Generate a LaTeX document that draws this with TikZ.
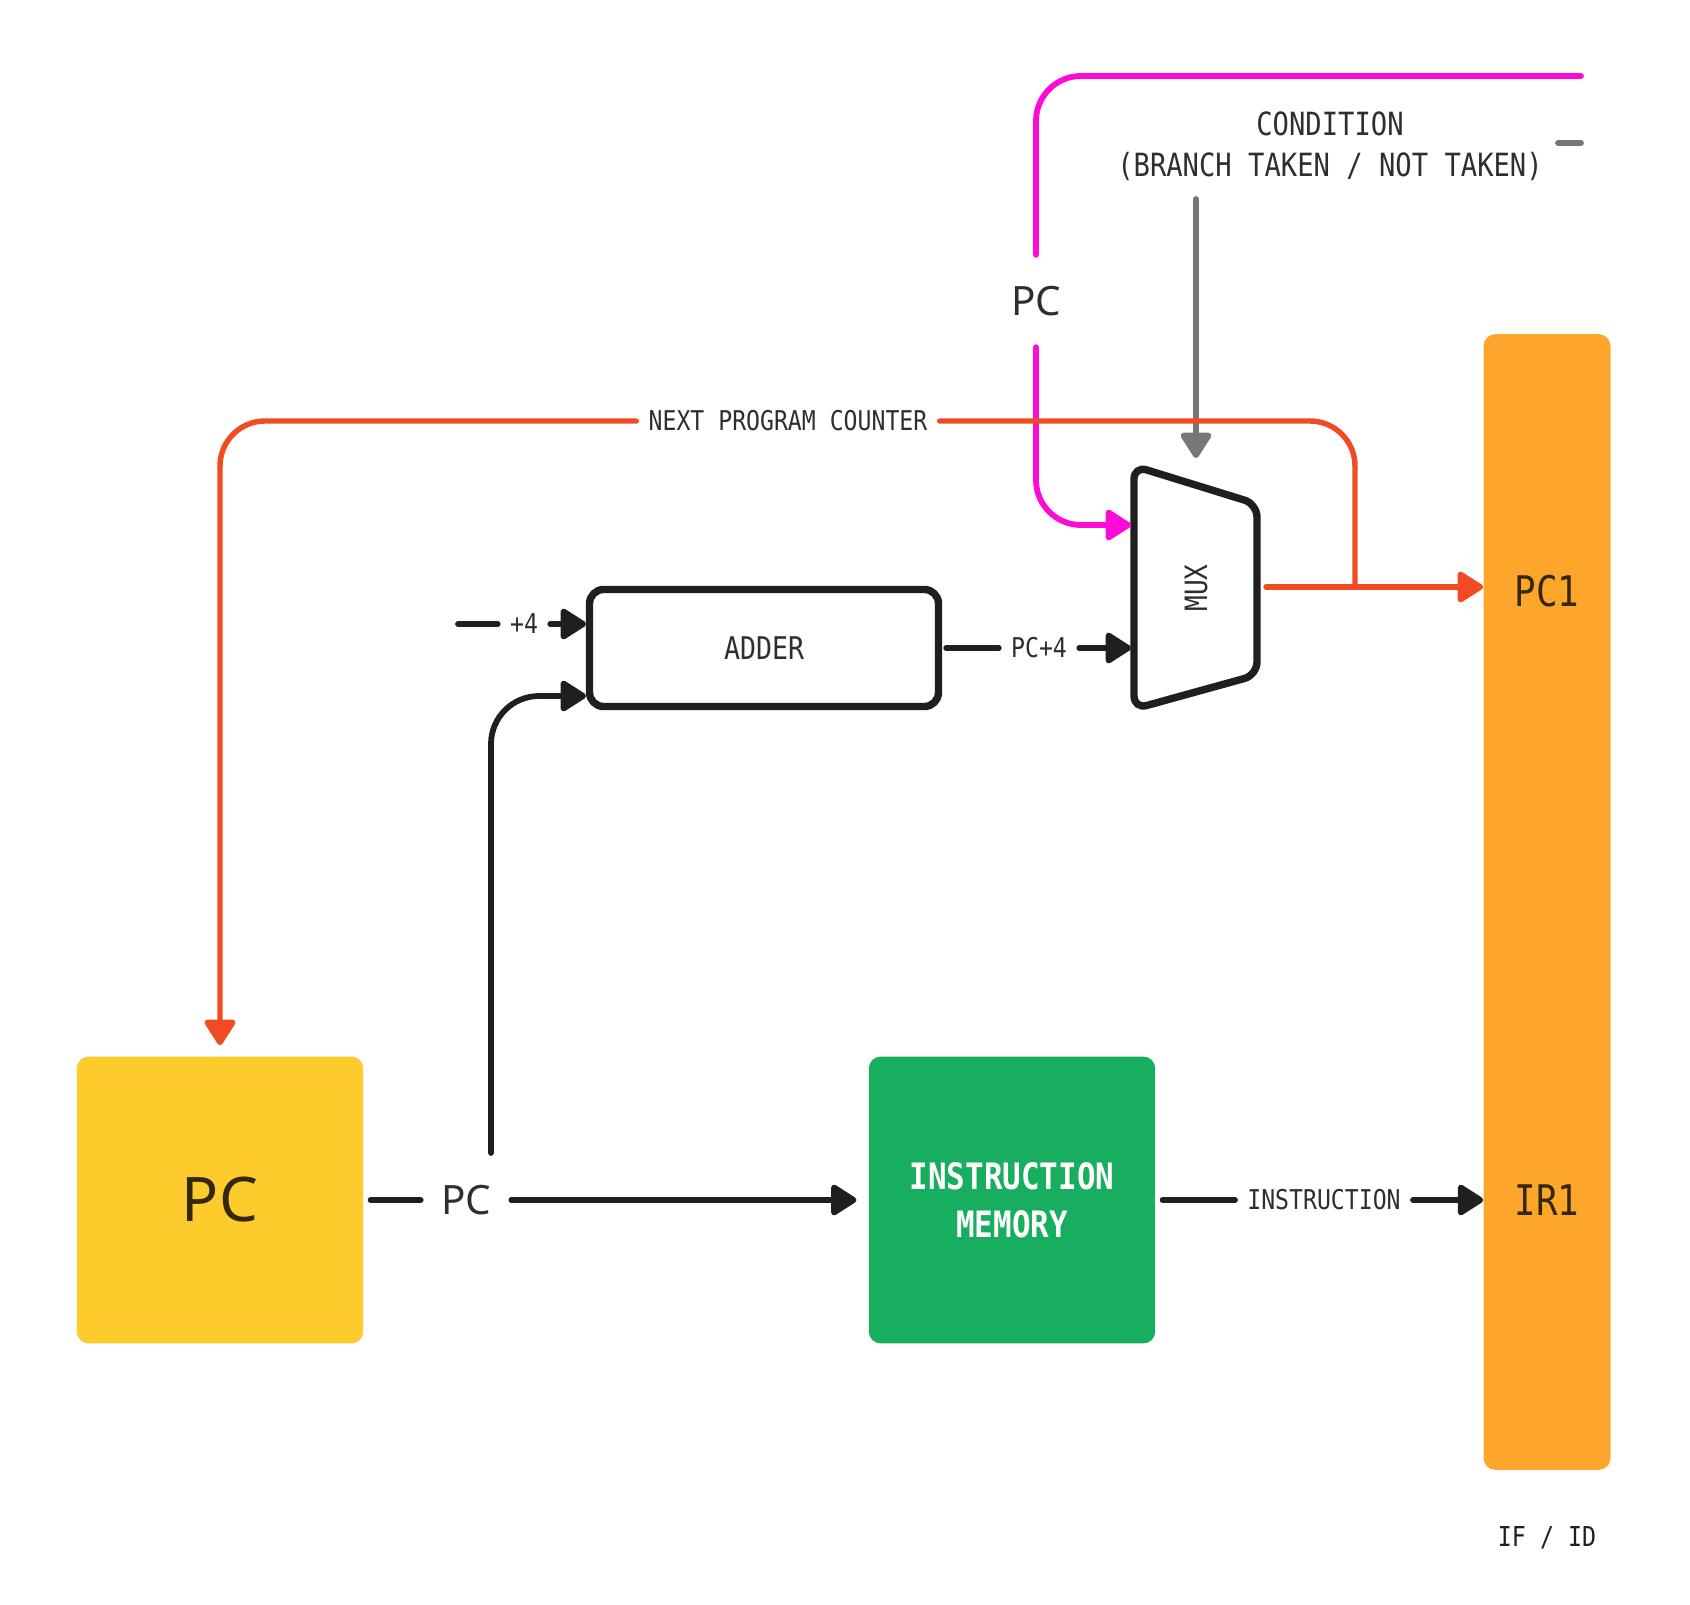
\documentclass[tikz,border=0pt]{standalone}
\usepackage{fontspec}
\setmainfont{Noto Sans}
\newfontfamily\monof[FakeStretch=0.85]{DejaVu Sans Mono}
\usetikzlibrary{arrows.meta}
\definecolor{pcyellow}{HTML}{FDCC2C}
\definecolor{memgreen}{HTML}{18AE5F}
\definecolor{regorange}{HTML}{FEA62B}
\definecolor{nextred}{HTML}{F24A23}
\definecolor{branchpink}{HTML}{FF0AD6}
\definecolor{condgrey}{HTML}{777777}
\definecolor{wireblack}{HTML}{1F1F1F}
\definecolor{txtgrey}{HTML}{2E2E2E}
\definecolor{pctxt}{HTML}{33280A}
\tikzset{
  wire/.style={line width=3.3pt, draw=wireblack, line cap=round},
  redwire/.style={line width=3.1pt, draw=nextred, line cap=round},
  pinkwire/.style={line width=3.3pt, draw=branchpink, line cap=round},
  greywire/.style={line width=3.3pt, draw=condgrey, line cap=round},
  tip/.style={-{Triangle[length=0.56cm,width=0.68cm,round]}},
  lbl/.style={font=\monof\fontsize{15.5}{18}\selectfont, text=txtgrey, inner xsep=0.24cm, inner ysep=0pt},
  siglbl/.style={font=\fontsize{23}{26}\selectfont, text=txtgrey, inner xsep=0.4cm, inner ysep=0pt},
  block/.style={rounded corners=0.24cm, minimum width=5.73cm, minimum height=5.74cm},
}
\begin{document}
\begin{tikzpicture}[x=0.02cm, y=-0.02cm]
    \useasboundingbox (0,0) rectangle (1690,1605);

    \node[block, fill=pcyellow, text=pctxt, font=\fontsize{35}{40}\selectfont] (pc) at (220,1200) {PC};
    \node[block, fill=memgreen, text=white, align=center, font=\monof\bfseries\fontsize{20.7}{27.6}\selectfont] (imem) at (1012,1200) {INSTRUCTION\\MEMORY};
    \node[fill=regorange, rounded corners=0.24cm, minimum width=2.54cm, minimum height=22.72cm] (reg) at (1547,902) {};
    \node[font=\monof\fontsize{24}{28}\selectfont, text=pctxt] (pcone) at (1547,591) {PC1};
    \node[font=\monof\fontsize{24}{28}\selectfont, text=pctxt] (irone) at (1547,1200) {IR1};
    \node[font=\monof\fontsize{15.6}{18}\selectfont, text=wireblack] (ifid) at (1547,1538) {IF / ID};

    \node[draw=wireblack, line width=4.2pt, fill=white, rounded corners=0.28cm, minimum width=6.98cm, minimum height=2.34cm, font=\monof\fontsize{17.8}{20}\selectfont, text=txtgrey] (adder) at (764,648) {ADDER};
    \draw[wire, line width=4.2pt, rounded corners=0.26cm, fill=white] (1134,466) -- (1257,504) -- (1257,675) -- (1134,709) -- cycle;
    \node[rotate=90, font=\monof\fontsize{17.5}{20}\selectfont, text=txtgrey] (mux) at (1196,588) {MUX};

    \node[siglbl] (pclbl) at (466,1200) {PC};
    \node[lbl] (fourlbl) at (524,624) {+4};
    \node[lbl] (pcfourlbl) at (1039,648) {PC+4};
    \node[lbl] (instrlbl) at (1324,1200) {INSTRUCTION};
    \node[lbl] (nextlbl) at (788,421) {NEXT PROGRAM COUNTER};
    \node[siglbl, inner ysep=0.62cm] (pinklbl) at (1036,301) {PC};
    \node[font=\monof\fontsize{18.2}{23.3}\selectfont, text=txtgrey, align=center] (cond) at (1330,146) {CONDITION\\(BRANCH TAKEN / NOT TAKEN)};

    \coordinate (four) at (458,624);
    \coordinate (adda) at (586,624);
    \coordinate (addb) at (586,696);
    \coordinate (tap) at (491,1153);
    \coordinate (muxa) at (1131,525);
    \coordinate (muxb) at (1131,648);
    \coordinate (muxsel) at (1196,458);
    \coordinate (muxout) at (1266,587);
    \coordinate (split) at (1355,587);
    \coordinate (pinkstart) at (1581,76);
    \coordinate (condtap) at (1196,199);
    \coordinate (stuba) at (1558,143);
    \coordinate (stubb) at (1581,143);

    \draw[wire, shorten <=0.14cm] (pc) -- (pclbl);
    \draw[wire, tip, shorten >=0.24cm] (pclbl) -- (imem);
    \draw[wire, tip, rounded corners=0.96cm] (tap) |- (addb);
    \draw[wire] (four) -- (fourlbl);
    \draw[wire, tip] (fourlbl) -- (adda);
    \draw[wire, shorten <=0.08cm] (adder) -- (pcfourlbl);
    \draw[wire, tip] (pcfourlbl) -- (muxb);
    \draw[wire, shorten <=0.14cm] (imem) -- (instrlbl);
    \draw[wire, tip] (instrlbl) -- (reg.west |- instrlbl);

    \draw[pinkwire, rounded corners=0.9cm] (pinkstart) -| (pinklbl.north);
    \draw[pinkwire, tip, rounded corners=0.9cm] (pinklbl.south) |- (muxa);
    \draw[greywire] (stuba) -- (stubb);
    \draw[greywire, tip] (condtap) -- (muxsel);

    \draw[redwire, tip] (muxout) -- (reg.west |- muxout);
    \draw[redwire, rounded corners=0.9cm] (split) |- (nextlbl.east);
    \draw[redwire, tip, rounded corners=0.9cm, shorten >=0.22cm] (nextlbl.west) -| (pc.north);
\end{tikzpicture}
\end{document}
